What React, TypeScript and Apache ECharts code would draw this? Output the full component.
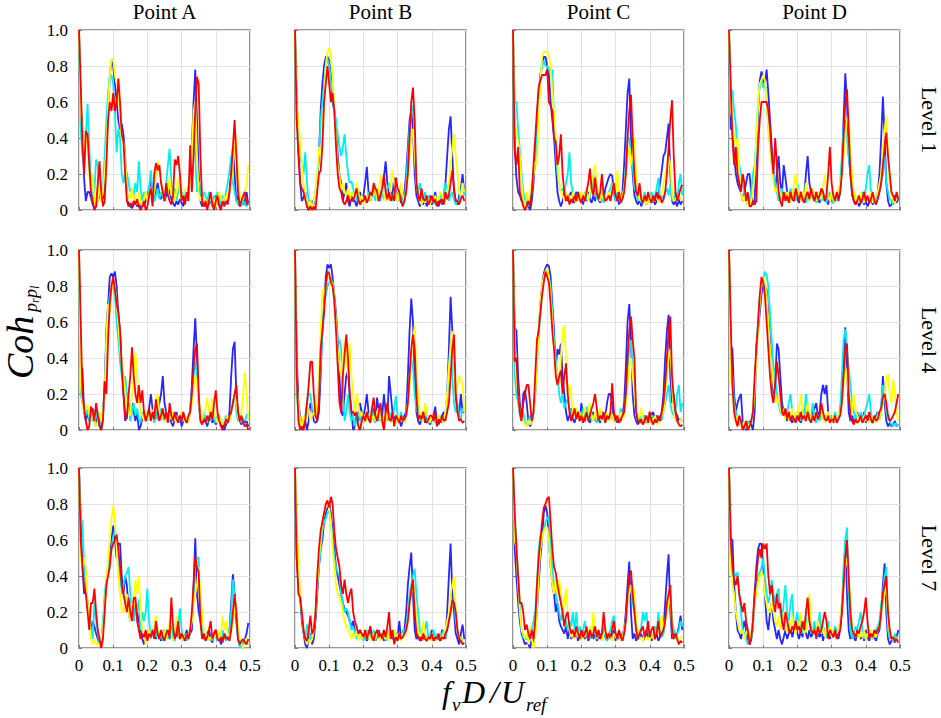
import React, { useEffect, useRef } from "react";
import * as echarts from "echarts";

const freq = [0,0.005,0.01,0.015,0.02,0.025,0.03,0.035,0.04,0.045,0.05,0.055,0.06,0.065,0.07,0.075,0.08,0.085,0.09,0.095,0.1,0.105,0.11,0.115,0.12,0.125,0.13,0.135,0.14,0.145,0.15,0.155,0.16,0.165,0.17,0.175,0.18,0.185,0.19,0.195,0.2,0.205,0.21,0.215,0.22,0.225,0.23,0.235,0.24,0.245,0.25,0.255,0.26,0.265,0.27,0.275,0.28,0.285,0.29,0.295,0.3,0.305,0.31,0.315,0.32,0.325,0.33,0.335,0.34,0.345,0.35,0.355,0.36,0.365,0.37,0.375,0.38,0.385,0.39,0.395,0.4,0.405,0.41,0.415,0.42,0.425,0.43,0.435,0.44,0.445,0.45,0.455,0.46,0.465,0.47,0.475,0.48,0.485,0.49,0.495];

const pointNames = ["Point A", "Point B", "Point C", "Point D"];
const levelNames = ["Level 1", "Level 4", "Level 7"];
const xTicks = [0, 0.1, 0.2, 0.3, 0.4, 0.5];
const yTicks = [0, 0.2, 0.4, 0.6, 0.8, 1.0];

// ---------- Level 1 ----------
const L1_A_blue = [1,.6,.44,.17,.05,.1,.1,.07,.03,.01,.02,.05,.08,.1,.06,.15,.35,.55,.75,.83,.8,.7,.6,.5,.45,.48,.42,.3,.1,.03,.02,.01,.03,.05,.02,.03,.01,.04,.02,.05,.08,.12,.17,.08,.05,.1,.15,.09,.06,.1,.05,.08,.13,.1,.06,.04,.02,.05,.03,.06,.04,.02,.1,.05,.12,.2,.35,.6,.78,.5,.2,.05,.02,.04,.02,.05,.03,.06,.02,.05,.08,.03,.06,.02,.05,.03,.05,.05,.1,.2,.35,.2,.05,.08,.02,.05,.03,.06,.1,.03];
const L1_A_cyan = [1,.45,.3,.25,.4,.59,.35,.15,.05,.1,.28,.25,.1,.05,.12,.3,.5,.65,.74,.75,.7,.55,.32,.45,.4,.2,.15,.2,.21,.15,.1,.12,.08,.15,.1,.27,.12,.05,.1,.08,.06,.12,.22,.1,.05,.08,.12,.06,.1,.08,.05,.15,.25,.34,.15,.08,.12,.05,.1,.15,.06,.1,.08,.05,.12,.2,.35,.45,.3,.1,.16,.12,.05,.1,.08,.04,.1,.06,.02,.08,.05,.1,.06,.03,.08,.05,.1,.15,.22,.3,.15,.1,.05,.03,.08,.02,.05,.03,.02,.04];
const L1_A_yellow = [1,.55,.45,.3,.43,.35,.2,.1,.2,.05,.02,.05,.15,.05,.1,.2,.35,.55,.75,.84,.84,.75,.7,.73,.5,.4,.38,.3,.1,.05,.08,.12,.05,.08,.03,.1,.05,.02,.06,.1,.05,.08,.12,.06,.1,.2,.27,.22,.15,.1,.06,.15,.1,.18,.08,.12,.05,.1,.18,.1,.05,.08,.12,.06,.1,.15,.3,.55,.6,.3,.1,.05,.08,.03,.06,.02,.05,.08,.03,.06,.02,.05,.1,.06,.04,.08,.05,.1,.1,.15,.25,.35,.4,.2,.08,.05,.06,.1,.15,.25];
const L1_A_red = [1,.7,.37,.2,.44,.42,.25,.1,.05,0,.02,.15,.27,.1,.02,.05,.25,.5,.6,.55,.65,.55,.6,.73,.6,.42,.38,.2,.05,.02,.04,.02,.05,.03,.06,.02,0,.02,.05,0,.02,.08,.12,.02,.2,.26,.22,.25,.15,.1,.05,.15,.08,.05,.03,.08,.28,.25,.3,.2,.05,.08,.03,.1,.05,.36,.1,.3,.55,.74,.7,.3,.05,.02,.05,0,.05,.1,.03,0,.05,.08,.02,0,.05,.02,.05,.03,.1,.2,.35,.5,.3,.1,.02,.05,.08,.1,.03,.05];

const L1_B_blue = [1,.62,.35,.15,.05,.07,.1,.02,0,.02,.05,.03,.1,.15,.3,.55,.7,.8,.85,.85,.83,.75,.6,.55,.45,.3,.2,.15,.05,.1,.15,.05,.02,.08,.05,.05,.02,.06,.1,.05,.08,.15,.24,.1,.05,.08,.12,.06,.1,.05,.08,.12,.18,.27,.15,.06,.1,.08,.18,.1,.05,.08,.04,.06,.1,.2,.35,.5,.55,.45,.2,.08,.05,.02,.05,.03,.06,.02,.05,.08,.03,.05,.1,.04,.02,.06,.03,.08,.15,.3,.45,.52,.3,.1,.05,.03,.08,.12,.2,.1];
const L1_B_cyan = [1,.5,.4,.3,.25,.2,.32,.15,.05,.05,.02,.05,.1,.2,.3,.5,.6,.7,.8,.84,.8,.72,.65,.55,.5,.42,.35,.3,.35,.42,.3,.2,.15,.16,.12,.08,.05,.1,.06,.08,.05,.08,.04,.1,.06,.08,.1,.05,.12,.08,.05,.1,.06,.08,.12,.15,.08,.05,.1,.06,.1,.05,.08,.04,.05,.15,.3,.45,.55,.58,.4,.15,.1,.15,.08,.05,.1,.06,.08,.04,.05,.08,.03,.06,.05,.1,.04,.08,.15,.12,.05,.08,.1,.06,.03,.05,.05,.1,.15,.08];
const L1_B_yellow = [1,.6,.48,.4,.25,.15,.08,.05,.02,.05,0,.05,.1,.2,.35,.3,.4,.6,.8,.88,.9,.85,.75,.55,.4,.25,.2,.1,.15,.1,.08,.12,.05,.1,.08,.06,.15,.1,.05,.08,.05,.03,.06,.08,.05,.1,.08,.12,.06,.1,.2,.12,.08,.05,.1,.06,.15,.22,.15,.08,.05,.1,.15,.08,.05,.1,.2,.3,.4,.45,.3,.15,.08,.05,.03,.06,.04,.08,.05,.03,.06,.04,.08,.05,.06,.1,.08,.04,.05,.1,.15,.25,.35,.42,.3,.2,.1,.08,.15,.1];
const L1_B_red = [1,.5,.3,.15,.12,.1,.06,.02,0,.02,0,.02,0,.1,.2,.22,.35,.6,.7,.8,.7,.6,.65,.55,.35,.2,.12,.1,.05,.03,.05,.08,.04,.06,.05,.08,.12,.06,.03,.05,.05,.08,.04,.06,.1,.08,.15,.12,.1,.05,.08,.12,.2,.1,.06,.1,.05,.08,.05,.18,.12,.1,.05,.02,.05,.1,.2,.4,.6,.68,.5,.15,.08,.05,.12,.06,.05,.08,.03,.05,.08,.04,.06,.02,.05,.04,.06,.03,.1,.06,.08,.15,.22,.12,.05,.05,.03,.06,.08,.05];

const L1_C_blue = [1,.35,.18,.1,.08,.05,.04,.02,.05,.02,0,.05,.15,.3,.5,.65,.75,.8,.85,.85,.8,.75,.6,.5,.4,.25,.1,.05,.02,.05,.1,.08,.05,.08,.1,.06,.04,.1,.08,.05,.06,.03,.08,.05,.1,.06,.04,.08,.05,.1,.06,.04,.08,.05,.12,.15,.18,.2,.19,.1,.05,.08,.03,.06,.1,.25,.45,.65,.73,.4,.2,.08,.05,.03,.06,.02,.05,.08,.03,.05,.08,.04,.06,.03,.05,.08,.15,.22,.3,.32,.4,.48,.2,.05,.03,.05,.02,.06,.03,.05];
const L1_C_cyan = [1,.6,.6,.45,.33,.2,.1,.05,.08,.02,.05,.1,.2,.25,.4,.6,.75,.8,.83,.8,.8,.78,.75,.78,.5,.35,.2,.15,.1,.12,.1,.15,.2,.32,.15,.1,.08,.05,.1,.06,.08,.05,.1,.06,.05,.08,.12,.2,.1,.06,.08,.05,.1,.04,.08,.06,.1,.12,.15,.08,.05,.1,.06,.04,.08,.12,.25,.4,.4,.3,.25,.12,.1,.05,.08,.04,.06,.1,.05,.08,.06,.1,.05,.08,.12,.18,.05,.08,.06,.1,.12,.08,.15,.05,.06,.1,.05,.15,.2,.08];
const L1_C_yellow = [1,.5,.42,.38,.3,.15,.05,.02,.1,.05,.1,.15,.2,.27,.25,.5,.7,.85,.88,.88,.88,.85,.8,.65,.55,.4,.25,.15,.1,.08,.05,.1,.06,.08,.05,.1,.06,.04,.08,.05,.1,.06,.08,.12,.05,.1,.15,.2,.25,.15,.08,.05,.1,.06,.08,.05,.1,.06,.12,.15,.1,.22,.1,.05,.08,.12,.2,.3,.35,.25,.3,.4,.2,.12,.05,.08,.04,.06,.03,.05,.08,.04,.06,.05,.08,.04,.06,.1,.15,.2,.25,.3,.25,.1,.05,.06,.05,.08,.06,.05];
const L1_C_red = [1,.33,.25,.35,.1,.06,.02,0,.02,.05,.02,.1,.25,.4,.55,.68,.72,.75,.75,.75,.78,.6,.58,.55,.4,.38,.25,.3,.42,.2,.1,.05,.08,.03,.06,.04,.08,.05,.1,.06,.04,.08,.05,.1,.15,.23,.12,.08,.18,.1,.06,.1,.2,.08,.05,.06,.08,.05,.1,.15,.08,.05,.1,.04,.06,.1,.2,.4,.55,.64,.4,.2,.1,.08,.15,.06,.04,.08,.05,.1,.06,.04,.08,.05,.1,.06,.08,.04,.06,.1,.2,.35,.5,.61,.3,.1,.05,.08,.12,.14];

const L1_D_blue = [1,.45,.45,.3,.2,.15,.12,.1,.05,.1,.15,.2,.2,.1,.03,.05,.3,.55,.72,.77,.72,.7,.78,.65,.5,.35,.2,.12,.2,.3,.15,.1,.25,.18,.1,.05,.1,.06,.05,.08,.06,.04,.1,.05,.08,.2,.3,.15,.1,.08,.05,.1,.06,.04,.08,.1,.05,.06,.03,.08,.05,.04,.06,.08,.05,.1,.25,.5,.76,.6,.3,.2,.08,.05,.03,.06,.02,.04,.06,.03,.05,.02,.04,.06,.03,.05,.08,.1,.2,.4,.63,.4,.15,.05,.02,.03,.05,.08,.04,.06];
const L1_D_cyan = [1,.67,.66,.55,.47,.3,.25,.2,.15,.08,.05,.08,.05,.1,.2,.25,.4,.6,.7,.72,.68,.7,.6,.45,.35,.25,.2,.15,.1,.05,.08,.12,.06,.1,.05,.08,.12,.06,.1,.05,.15,.08,.05,.1,.06,.04,.08,.05,.1,.06,.08,.04,.06,.1,.05,.08,.06,.04,.08,.1,.06,.04,.08,.05,.1,.15,.3,.45,.5,.4,.3,.2,.1,.06,.08,.04,.06,.05,.1,.08,.12,.2,.25,.1,.05,.06,.04,.08,.1,.15,.2,.3,.15,.1,.06,.05,.03,.05,.06,.08];
const L1_D_yellow = [1,.55,.5,.4,.35,.4,.2,.1,.05,.08,.03,.05,.02,.05,.1,.2,.4,.6,.7,.72,.75,.72,.6,.45,.35,.25,.15,.1,.12,.08,.1,.06,.08,.05,.1,.06,.04,.08,.15,.2,.12,.08,.05,.1,.06,.15,.1,.05,.08,.12,.06,.05,.1,.08,.06,.12,.2,.1,.08,.05,.1,.06,.04,.08,.1,.15,.2,.3,.4,.5,.53,.3,.2,.1,.05,.08,.04,.1,.06,.04,.08,.05,.06,.1,.04,.06,.08,.1,.15,.2,.35,.45,.52,.3,.15,.08,.05,.04,.06,.08];
const L1_D_red = [1,.7,.4,.25,.35,.2,.15,.1,.2,.15,.05,.1,.02,.02,.05,.03,.05,.35,.5,.6,.6,.6,.6,.55,.45,.3,.2,.4,.25,.1,.05,.02,.1,.05,.08,.04,.1,.06,.05,.12,.08,.05,.1,.06,.04,.08,.1,.06,.12,.08,.05,.1,.06,.08,.12,.1,.05,.08,.2,.35,.15,.08,.05,.1,.06,.1,.2,.4,.6,.67,.45,.2,.1,.05,.03,.05,.08,.04,.06,.1,.05,.08,.04,.06,.1,.05,.03,.06,.1,.15,.25,.35,.43,.3,.2,.1,.08,.05,.1,.06];

// ---------- Level 4 ----------
const L4_A_blue = [1,.35,.34,.1,.05,.1,.05,.08,.12,.05,.02,.1,.03,0,.08,.25,.55,.7,.85,.87,.85,.88,.8,.65,.55,.35,.2,.05,.08,.15,.08,.15,.1,.05,.1,0,.02,.06,.1,.05,.08,.12,.2,.12,.05,.1,.06,.15,.2,.3,.15,.1,.06,.08,.04,.02,.06,.1,.05,.08,.02,.05,.08,.04,.06,.1,.25,.45,.62,.4,.15,.06,.04,.08,.05,.02,.06,.1,.04,.06,.03,.05,.08,.04,.02,0,.03,.05,.1,.3,.45,.49,.2,.1,.05,.03,.06,.04,.05,.02];
const L4_A_cyan = [1,.2,.15,.1,.08,.12,.05,.1,.05,.1,.12,.05,.02,.05,.1,.2,.45,.68,.75,.78,.8,.75,.6,.5,.38,.3,.25,.3,.2,.15,.05,.1,.15,.08,.12,.06,.04,.1,.06,.08,.05,.1,.06,.08,.04,.1,.06,.08,.12,.06,.05,.1,.04,.08,.06,.1,.05,.08,.04,.06,.1,.05,.08,.04,.06,.12,.2,.3,.38,.3,.15,.08,.05,.1,.06,.04,.08,.05,.1,.06,.04,.08,.05,.06,.03,.05,.08,.04,.06,.1,.15,.2,.1,.05,.08,.04,.06,.05,.08,.1];
const L4_A_yellow = [1,.25,.15,.1,.12,.14,.08,.05,.1,.05,.02,.05,.1,.05,.1,.2,.5,.7,.65,.78,.82,.8,.7,.6,.45,.38,.3,.2,.15,.1,.08,.2,.3,.43,.3,.15,.1,.08,.05,.1,.06,.08,.05,.1,.12,.15,.2,.1,.06,.08,.05,.1,.04,.08,.06,.1,.05,.08,.04,.06,.1,.05,.08,.06,.04,.1,.15,.25,.3,.25,.15,.08,.05,.1,.12,.18,.1,.08,.18,.1,.06,.04,.08,.05,.03,.06,.04,.08,.05,.1,.15,.2,.15,.08,.05,.1,.2,.32,.2,.05];
const L4_A_red = [1,.6,.2,.12,.05,0,.02,.13,.1,.05,.15,.08,.02,0,.05,.27,.2,.5,.7,.8,.85,.78,.7,.65,.55,.35,.2,.08,.06,.2,.3,.46,.3,.2,.15,.25,.15,.22,.1,.05,.08,.12,.05,.1,.06,.17,.1,.05,.08,.12,.06,.1,.04,.15,.08,.05,.1,.06,.04,.08,.05,.1,.06,.04,.08,.1,.2,.35,.45,.48,.2,.05,.03,.06,.04,.08,.05,.1,.06,.15,.22,.1,.05,.02,0,.03,.06,.04,.08,.1,.15,.2,.25,.1,.05,.08,.04,.02,.03,0];

const L4_B_blue = [1,.42,.15,.08,0,.02,.05,0,.05,.15,.12,.05,.04,.05,.1,.3,.55,.7,.85,.92,.9,.92,.85,.75,.65,.5,.3,.1,.08,.2,.3,.33,.2,.1,0,.02,.08,.05,.15,.1,.08,.12,.2,.1,.05,.08,.12,.06,.18,.1,.05,.08,.2,.1,.06,.3,.2,.1,.05,.08,.04,.06,.02,.05,.08,.1,.3,.55,.73,.6,.3,.1,.05,.03,.06,.1,.04,.08,.05,.03,.06,.08,.13,.05,.03,.06,.08,.1,.05,.2,.45,.74,.55,.4,.2,.1,.08,.2,.1,.1];
const L4_B_cyan = [1,.2,.1,.05,.02,.05,.08,.15,.2,.2,.12,.1,.08,.12,.2,.35,.55,.7,.75,.8,.82,.85,.8,.7,.6,.5,.5,.45,.2,.05,.1,.2,.1,.05,.08,.02,.06,.1,.05,.08,.04,.06,.1,.08,.05,.12,.06,.04,.08,.05,.1,.06,.04,.08,.05,.1,.08,.05,.12,.19,.08,.05,.1,.06,.04,.08,.15,.3,.4,.35,.2,.1,.15,.08,.05,.06,.12,.08,.04,.06,.05,.08,.04,.06,.05,.08,.04,.06,.1,.2,.35,.5,.3,.15,.1,.15,.08,.06,.12,.1];
const L4_B_yellow = [1,.25,.15,.05,.02,.08,.05,.1,.12,.05,.08,.1,.08,.15,.3,.55,.78,.75,.8,.85,.85,.8,.82,.75,.6,.45,.35,.3,.4,.5,.45,.3,.48,.3,.2,.1,.2,.15,.08,.1,.06,.04,.08,.05,.1,.06,.08,.05,.1,.12,.06,.04,.08,.05,.1,.06,.04,.08,.05,.06,.04,.08,.05,.06,.04,.08,.15,.25,.4,.5,.58,.3,.2,.1,.08,.05,.15,.1,.06,.04,.08,.05,.06,.04,.08,.05,.06,.04,.1,.2,.35,.45,.55,.4,.2,.25,.3,.28,.25,.1];
const L4_B_red = [1,.3,.05,0,.02,0,.05,.15,.25,.38,.38,.2,.08,.05,.15,.45,.55,.65,.8,.88,.87,.82,.8,.72,.55,.35,.15,.1,.3,.42,.53,.4,.2,.1,.1,.08,.1,.02,0,.05,.08,.05,.1,.06,.04,.12,.18,.08,.05,.1,.15,.05,0,.1,.15,.06,.05,.1,.02,.08,.06,.04,.08,.05,.06,.08,.15,.3,.45,.53,.45,.2,.05,.08,.06,.1,.05,.04,.06,.08,.08,.05,.1,.02,.06,.04,.08,.05,.06,.1,.15,.3,.45,.53,.2,.1,.05,.06,.04,.05];

const L4_C_blue = [1,.57,.55,.3,.15,.05,.2,.22,.15,.05,.02,.05,.1,.2,.4,.55,.7,.8,.87,.9,.92,.91,.85,.7,.55,.35,.45,.42,.48,.3,.2,.1,.05,.08,.12,.06,.04,.08,.1,.05,.15,.08,.05,.1,.06,.04,.08,.1,.05,.08,.06,.04,.1,.06,.08,.15,.2,.2,.15,.05,.08,.04,.06,.05,.08,.15,.35,.6,.7,.5,.2,.08,.05,.03,.06,.04,.05,.08,.04,.06,.1,.08,.1,.06,.08,.05,.06,.1,.2,.4,.55,.64,.3,.15,.2,.1,.08,.05,.06,.05];
const L4_C_cyan = [1,.3,.2,.15,.08,.05,.1,.05,.02,.05,.08,.05,.1,.2,.35,.5,.65,.75,.85,.88,.89,.85,.8,.65,.5,.4,.3,.2,.15,.2,.12,.15,.17,.12,.1,.08,.12,.06,.1,.05,.08,.12,.06,.13,.08,.1,.05,.08,.06,.04,.08,.05,.1,.06,.04,.08,.05,.1,.06,.08,.05,.08,.06,.12,.08,.1,.2,.35,.45,.5,.35,.25,.1,.05,.08,.04,.06,.08,.05,.04,.06,.08,.05,.06,.04,.08,.05,.06,.1,.15,.2,.25,.15,.1,.08,.1,.2,.25,.1,.15];
const L4_C_yellow = [1,.5,.3,.2,.1,.08,.05,.03,.02,.05,.03,.05,.1,.2,.35,.55,.7,.8,.85,.88,.9,.85,.75,.6,.45,.35,.3,.25,.4,.55,.58,.4,.2,.25,.2,.1,.08,.12,.06,.1,.05,.08,.12,.06,.1,.15,.08,.05,.1,.06,.08,.12,.05,.08,.06,.1,.05,.1,.08,.04,.06,.08,.05,.1,.06,.08,.15,.25,.35,.4,.3,.2,.1,.06,.08,.12,.05,.04,.06,.03,.1,.06,.04,.08,.05,.03,.06,.08,.1,.2,.3,.4,.45,.25,.1,.06,.05,.04,.06,.05];
const L4_C_red = [1,.38,.4,.2,.1,.05,.15,.2,.25,.25,.15,.05,.1,.3,.5,.55,.65,.75,.82,.88,.85,.82,.7,.55,.45,.3,.25,.3,.33,.2,.3,.37,.2,.1,.05,.08,.12,.06,.1,.05,.08,.04,.06,.1,.05,.08,.12,.15,.2,.12,.05,.08,.06,.1,.04,.08,.06,.1,.26,.1,.05,.08,.04,.06,.08,.1,.2,.4,.55,.63,.5,.4,.1,.05,.04,.06,.03,.05,.08,.04,.1,.05,.03,.06,.04,.08,.05,.1,.15,.25,.4,.55,.63,.3,.18,.1,.05,.03,.02,.03];

const L4_D_blue = [1,.47,.45,.2,.1,.15,.18,.2,.05,.02,0,.02,.05,.03,0,.1,.47,.55,.65,.75,.82,.8,.78,.65,.5,.35,.2,.25,.48,.45,.3,.15,.1,.08,.05,.1,.06,.04,.08,.05,.1,.06,.04,.08,.05,.1,.12,.08,.05,.1,.12,.15,.08,.1,.2,.25,.2,.25,.1,.05,.08,.04,.06,.05,.08,.1,.2,.4,.57,.35,.1,.05,.08,.04,.06,.1,.05,.08,.06,.1,.04,.08,.05,.06,.04,.06,.08,.1,.06,.1,.3,.15,.05,.02,.04,.02,.03,.05,.02,.03];
const L4_D_cyan = [1,.4,.3,.15,.1,.05,.03,.05,.02,.01,.02,.05,.03,.05,.1,.25,.45,.6,.75,.8,.84,.88,.86,.8,.65,.5,.35,.3,.2,.15,.1,.08,.12,.06,.1,.15,.2,.1,.05,.08,.06,.1,.05,.12,.08,.2,.1,.05,.08,.15,.06,.04,.08,.05,.1,.06,.08,.05,.1,.06,.08,.05,.1,.06,.08,.12,.3,.5,.56,.45,.35,.25,.15,.1,.06,.08,.05,.1,.06,.08,.12,.15,.2,.1,.05,.06,.04,.1,.06,.15,.25,.2,.1,.06,.05,.03,.02,.04,.02,.03];
const L4_D_yellow = [1,.3,.2,.1,.05,.08,.05,.03,.02,.05,.01,.03,.02,.05,.1,.2,.4,.55,.7,.8,.85,.82,.75,.6,.45,.35,.25,.2,.15,.18,.12,.08,.1,.06,.1,.05,.08,.12,.06,.1,.08,.12,.2,.1,.05,.08,.15,.1,.06,.08,.05,.1,.06,.08,.12,.06,.04,.08,.1,.06,.04,.08,.05,.06,.1,.08,.15,.25,.35,.3,.2,.15,.1,.2,.12,.08,.05,.06,.04,.08,.05,.06,.04,.08,.05,.06,.04,.08,.06,.1,.15,.2,.28,.31,.2,.15,.28,.2,.1,.05];
const L4_D_red = [1,.6,.25,.1,.05,.02,.08,.05,0,.02,.05,0,.02,.05,.1,.3,.45,.6,.75,.85,.82,.75,.6,.45,.3,.2,.15,.25,.38,.3,.2,.1,.08,.12,.06,.1,.05,.08,.06,.04,.08,.05,.1,.06,.08,.05,.1,.06,.04,.08,.05,.1,.06,.08,.15,.1,.06,.05,.08,.04,.06,.05,.08,.04,.06,.08,.15,.3,.45,.48,.2,.08,.05,.03,.06,.04,.05,.08,.04,.06,.08,.05,.1,.06,.04,.08,.05,.06,.1,.12,.18,.2,.15,.08,.05,.06,.08,.1,.15,.2];

// ---------- Level 7 ----------
const L7_A_blue = [1,.7,.45,.3,.33,.25,.15,.1,.15,.12,.08,.05,.02,.01,.1,.25,.35,.45,.5,.6,.68,.6,.5,.58,.58,.4,.3,.4,.35,.2,.15,.2,.15,.25,.2,.15,.1,.05,.02,.08,.05,.1,.06,.08,.12,.05,.1,.06,.04,.08,.1,.06,.08,.05,.1,.04,.08,.06,.1,.05,.08,.04,.06,.1,.05,.08,.1,.35,.61,.3,.2,.15,.08,.05,.06,.08,.1,.05,.03,.08,.1,.04,.06,.02,.05,.08,.04,.06,.1,.25,.41,.3,.15,.05,.02,.04,.02,.05,.08,.14];
const L7_A_cyan = [1,.72,.7,.45,.35,.25,.2,.1,.05,.25,.15,.08,.02,.05,.15,.3,.38,.45,.5,.55,.62,.65,.6,.45,.4,.3,.35,.4,.42,.45,.3,.2,.15,.22,.2,.27,.1,.2,.15,.2,.33,.15,.05,.08,.12,.06,.1,.05,.08,.04,.06,.1,.05,.08,.12,.06,.04,.08,.12,.22,.1,.05,.08,.04,.06,.1,.15,.3,.45,.5,.5,.2,.1,.06,.04,.08,.05,.06,.04,.08,.06,.04,.08,.05,.1,.06,.04,.08,.1,.2,.38,.3,.2,.05,0,.02,.04,.05,.03,.05];
const L7_A_yellow = [1,.5,.45,.5,.45,.25,.15,.05,.02,.05,.02,.03,.01,.05,.1,.25,.35,.5,.6,.72,.79,.72,.55,.4,.3,.22,.2,.25,.3,.2,.15,.25,.22,.38,.3,.4,.2,.1,.08,.02,.05,.1,.06,.08,.12,.18,.1,.05,.08,.06,.1,.05,.08,.15,.06,.04,.08,.18,.1,.05,.08,.04,.06,.08,.05,.1,.15,.25,.3,.35,.45,.3,.2,.1,.06,.08,.04,.06,.05,.08,.06,.1,.04,.08,.18,.1,.15,.08,.05,.1,.15,.2,.25,.1,.05,.02,0,.04,.05,.03];
const L7_A_red = [1,.6,.45,.35,.3,.2,.1,.25,.25,.33,.2,.1,.05,0,.05,.2,.35,.4,.45,.55,.58,.6,.63,.55,.45,.35,.3,.25,.2,.28,.2,.15,.28,.28,.15,.1,.05,.08,.06,.1,.04,.08,.06,.1,.05,.15,.08,.05,.1,.06,.04,.08,.1,.06,.28,.12,.05,.08,.15,.05,.08,.06,.04,.08,.05,.1,.2,.35,.51,.45,.42,.15,.05,.08,.04,.06,.1,.15,.05,.08,.1,.05,.04,.06,.03,.08,.05,.06,.04,.1,.2,.3,.2,.05,.02,.04,.05,.03,.02,.05];

const L7_B_blue = [1,.5,.35,.28,.15,.08,.02,0,.05,.08,.02,.05,.15,.3,.45,.55,.6,.7,.75,.78,.8,.75,.65,.55,.45,.4,.35,.3,.25,.22,.2,.18,.15,.12,.15,.1,.08,.05,.08,.05,.06,.08,.04,.06,.12,.05,.08,.04,.06,.1,.05,.08,.04,.06,.1,.05,.08,.06,.04,.08,.06,.15,.05,.08,.1,.2,.35,.45,.53,.3,.1,.05,.08,.04,.06,.05,.08,.04,.06,.05,.1,.08,.04,.06,.05,.04,.1,.08,.05,.2,.4,.58,.3,.2,.08,.05,.02,.08,.13,.05];
const L7_B_cyan = [1,.6,.45,.3,.2,.1,.05,.13,.1,.05,.08,.1,.2,.35,.45,.55,.65,.7,.72,.75,.76,.7,.6,.5,.45,.42,.4,.3,.25,.2,.22,.2,.15,.1,.12,.08,.05,.1,.06,.08,.04,.06,.1,.05,.08,.06,.1,.04,.08,.06,.05,.08,.1,.04,.06,.08,.05,.1,.06,.04,.08,.05,.06,.1,.08,.12,.2,.3,.35,.4,.44,.3,.2,.1,.08,.06,.1,.15,.05,.08,.06,.1,.04,.08,.06,.05,.08,.1,.06,.1,.15,.2,.25,.28,.15,.1,.05,.06,.04,.05];
const L7_B_yellow = [1,.7,.5,.3,.2,.1,.05,.02,.05,.03,.05,.1,.2,.35,.5,.6,.7,.75,.78,.8,.78,.7,.55,.45,.35,.3,.28,.25,.2,.15,.12,.1,.08,.05,.08,.06,.1,.04,.08,.05,.06,.1,.05,.08,.04,.06,.08,.05,.1,.06,.04,.08,.06,.05,.1,.04,.08,.06,.1,.05,.08,.06,.04,.08,.06,.1,.15,.25,.3,.35,.3,.15,.1,.06,.08,.15,.08,.05,.06,.04,.08,.05,.06,.04,.08,.06,.05,.08,.1,.15,.2,.3,.35,.4,.2,.1,.06,.05,.04,.05];
const L7_B_red = [1,.5,.3,.28,.2,.1,.05,.04,.1,.18,.08,.1,.2,.4,.55,.65,.7,.75,.8,.82,.78,.84,.8,.65,.55,.5,.45,.35,.3,.38,.3,.25,.3,.33,.2,.15,.12,.08,.1,.08,.06,.1,.05,.08,.12,.06,.04,.08,.1,.06,.08,.05,.1,.06,.12,.2,.05,.1,.02,.06,.04,.08,.05,.06,.08,.1,.15,.25,.32,.38,.2,.08,.05,.06,.04,.08,.05,.04,.06,.05,.08,.04,.06,.05,.08,.04,.06,.05,.08,.1,.15,.2,.27,.25,.2,.1,.05,.04,.02,.03];

const L7_C_blue = [1,.55,.4,.25,.15,.08,.05,.02,.03,.02,0,.05,.03,.1,.2,.35,.5,.6,.75,.79,.75,.6,.45,.35,.3,.2,.25,.15,.12,.1,.08,.12,.05,.1,.05,.08,.06,.1,.04,.08,.06,.1,.05,.08,.04,.06,.1,.05,.08,.04,.06,.08,.05,.1,.06,.04,.08,.05,.06,.1,.04,.08,.05,.06,.08,.1,.2,.35,.48,.2,.05,.08,.04,.06,.05,.08,.04,.06,.1,.05,.08,.04,.06,.05,.08,.04,.06,.08,.1,.25,.4,.52,.2,.05,.1,.06,.08,.12,.18,.1];
const L7_C_cyan = [1,.72,.6,.4,.25,.1,.06,.05,.05,.08,.05,.1,.15,.2,.35,.55,.62,.63,.65,.7,.72,.73,.55,.45,.35,.3,.25,.2,.15,.2,.12,.15,.1,.15,.12,.2,.1,.2,.08,.12,.06,.1,.15,.08,.06,.1,.05,.12,.08,.06,.1,.05,.08,.12,.06,.04,.08,.1,.15,.18,.08,.05,.1,.06,.04,.08,.15,.25,.3,.35,.25,.2,.1,.06,.08,.12,.2,.15,.2,.1,.05,.08,.06,.12,.08,.2,.1,.06,.08,.15,.2,.25,.3,.15,.1,.06,.08,.1,.15,.12];
const L7_C_yellow = [1,.6,.55,.35,.2,.1,.08,.05,.08,.02,.12,.05,0,.05,.2,.4,.55,.6,.65,.67,.67,.6,.45,.35,.3,.38,.3,.38,.3,.2,.25,.33,.2,.1,.06,.08,.05,.1,.06,.08,.04,.08,.06,.1,.05,.12,.08,.2,.1,.05,.08,.06,.04,.08,.1,.05,.08,.06,.04,.08,.06,.05,.08,.04,.06,.1,.15,.25,.3,.35,.32,.32,.15,.1,.05,.06,.04,.08,.05,.06,.04,.08,.05,.06,.1,.08,.12,.18,.1,.15,.2,.25,.3,.1,.05,.06,.04,.05,.06,.05];
const L7_C_red = [1,.75,.55,.4,.25,.25,.2,.1,.13,.08,.05,.1,.05,.15,.35,.5,.6,.7,.78,.8,.83,.84,.7,.55,.45,.42,.35,.3,.25,.2,.12,.18,.2,.12,.08,.1,.06,.12,.08,.05,.1,.06,.08,.12,.05,.1,.06,.08,.12,.06,.1,.05,.08,.2,.1,.05,.08,.06,.1,.15,.08,.05,.1,.06,.04,.08,.15,.3,.4,.43,.3,.2,.1,.05,.08,.1,.12,.06,.08,.15,.06,.1,.12,.05,.08,.15,.06,.08,.1,.15,.25,.3,.35,.1,.05,.08,.05,.02,.04,.03];

const L7_D_blue = [1,.61,.6,.35,.2,.1,.08,.05,.1,.15,.1,.05,.02,.05,.15,.3,.45,.55,.58,.58,.45,.3,.15,.1,.2,.25,.15,.1,.05,.1,.05,.02,.06,.1,.05,.08,.12,.06,.1,.15,.08,.05,.1,.06,.12,.08,.05,.1,.06,.08,.12,.05,.08,.06,.1,.04,.08,.06,.1,.05,.08,.06,.12,.08,.05,.1,.2,.35,.6,.3,.1,.05,.08,.06,.04,.08,.06,.05,.08,.04,.1,.06,.04,.08,.05,.06,.04,.08,.1,.2,.35,.47,.2,.05,.02,.04,.05,.03,.06,.1];
const L7_D_cyan = [1,.5,.4,.42,.4,.42,.3,.2,.1,.08,.05,.02,.08,.05,.1,.25,.35,.4,.42,.45,.5,.4,.3,.25,.3,.38,.3,.25,.3,.33,.2,.15,.25,.35,.2,.15,.25,.3,.1,.15,.2,.1,.15,.08,.12,.1,.2,.15,.08,.1,.15,.06,.1,.2,.08,.12,.1,.06,.15,.08,.1,.06,.12,.08,.1,.15,.25,.45,.6,.67,.3,.1,.05,.08,.12,.1,.15,.2,.1,.05,.08,.06,.1,.05,.08,.06,.1,.12,.15,.25,.3,.4,.45,.1,.05,.06,.04,.08,.05,.06];
const L7_D_yellow = [1,.45,.35,.3,.2,.15,.1,.08,.1,.05,.08,.1,.05,.08,.15,.25,.3,.35,.4,.42,.4,.3,.25,.2,.2,.25,.2,.15,.12,.18,.1,.15,.2,.12,.08,.15,.1,.18,.12,.08,.15,.1,.2,.12,.08,.1,.15,.3,.12,.08,.1,.06,.15,.1,.08,.12,.06,.1,.08,.12,.06,.1,.08,.05,.1,.15,.25,.35,.45,.5,.4,.25,.1,.08,.06,.1,.05,.08,.06,.1,.05,.08,.06,.1,.05,.08,.06,.1,.12,.2,.25,.3,.35,.15,.08,.05,.06,.04,.05,.06];
const L7_D_red = [1,.6,.45,.38,.35,.4,.3,.25,.2,.25,.15,.1,.02,.05,.15,.3,.4,.5,.55,.5,.58,.55,.58,.4,.3,.35,.25,.2,.3,.22,.25,.15,.1,.2,.15,.1,.08,.12,.1,.15,.1,.12,.08,.15,.1,.2,.28,.15,.1,.08,.1,.06,.12,.08,.1,.15,.2,.15,.05,.1,.08,.06,.1,.05,.08,.1,.2,.35,.5,.6,.4,.2,.1,.08,.06,.1,.08,.12,.15,.2,.28,.15,.05,.08,.06,.1,.08,.1,.12,.2,.3,.35,.4,.2,.1,.05,.06,.04,.05,.03];

const panels = [
  { row: 0, col: 0, lines: [L1_A_blue, L1_A_cyan, L1_A_yellow, L1_A_red] },
  { row: 0, col: 1, lines: [L1_B_blue, L1_B_cyan, L1_B_yellow, L1_B_red] },
  { row: 0, col: 2, lines: [L1_C_blue, L1_C_cyan, L1_C_yellow, L1_C_red] },
  { row: 0, col: 3, lines: [L1_D_blue, L1_D_cyan, L1_D_yellow, L1_D_red] },
  { row: 1, col: 0, lines: [L4_A_blue, L4_A_cyan, L4_A_yellow, L4_A_red] },
  { row: 1, col: 1, lines: [L4_B_blue, L4_B_cyan, L4_B_yellow, L4_B_red] },
  { row: 1, col: 2, lines: [L4_C_blue, L4_C_cyan, L4_C_yellow, L4_C_red] },
  { row: 1, col: 3, lines: [L4_D_blue, L4_D_cyan, L4_D_yellow, L4_D_red] },
  { row: 2, col: 0, lines: [L7_A_blue, L7_A_cyan, L7_A_yellow, L7_A_red] },
  { row: 2, col: 1, lines: [L7_B_blue, L7_B_cyan, L7_B_yellow, L7_B_red] },
  { row: 2, col: 2, lines: [L7_C_blue, L7_C_cyan, L7_C_yellow, L7_C_red] },
  { row: 2, col: 3, lines: [L7_D_blue, L7_D_cyan, L7_D_yellow, L7_D_red] },
];

const LINE_COLORS = ["#2626ff", "#00eeee", "#ffff00", "#ff0000"];
const FONT = "Liberation Serif";
const COL_LEFT = [79, 295, 513, 729];
const ROW_TOP = [30, 250, 468];
const PW = 171;
const PH = 180;

const fmt = (v: number) => (v === 0 ? "0" : v.toFixed(1));

function txt(text: string, x: number, y: number, size: number, opts: any = {}) {
  return {
    type: "text",
    x,
    y,
    rotation: opts.rotation || 0,
    silent: true,
    style: {
      text,
      fontFamily: FONT,
      fontSize: size,
      fontStyle: opts.italic ? "italic" : "normal",
      fill: "#000",
      align: opts.align || "left",
      verticalAlign: "middle",
      textAlign: opts.align || "left",
      textVerticalAlign: "middle",
    },
  };
}

export default function App() {
  const ref = useRef<HTMLDivElement>(null);
  useEffect(() => {
    if (!ref.current) return;
    const chart = echarts.init(ref.current, null, { renderer: "svg" });
    const grid: any[] = [];
    const xAxis: any[] = [];
    const yAxis: any[] = [];
    const series: any[] = [];
    panels.forEach((p, k) => {
      grid.push({
        left: COL_LEFT[p.col],
        top: ROW_TOP[p.row],
        width: PW,
        height: PH,
        show: true,
        borderColor: "#7a7a7a",
        borderWidth: 1.6,
        backgroundColor: "transparent",
      });
      xAxis.push({
        type: "value",
        gridIndex: k,
        min: xTicks[0],
        max: xTicks[xTicks.length - 1],
        interval: 0.1,
        axisLine: { show: false },
        axisTick: { show: true, inside: true, length: 3, lineStyle: { color: "#7a7a7a" } },
        splitLine: { show: true, lineStyle: { color: "#e2e2e2", width: 1 } },
        axisLabel: {
          show: p.row === 2,
          formatter: fmt,
          fontFamily: FONT,
          fontSize: 17,
          color: "#000",
          margin: 9,
        },
      });
      yAxis.push({
        type: "value",
        gridIndex: k,
        min: yTicks[0],
        max: yTicks[yTicks.length - 1],
        interval: 0.2,
        axisLine: { show: false },
        axisTick: { show: true, inside: true, length: 3, lineStyle: { color: "#7a7a7a" } },
        splitLine: { show: true, lineStyle: { color: "#e2e2e2", width: 1 } },
        axisLabel: {
          show: p.col === 0,
          formatter: fmt,
          fontFamily: FONT,
          fontSize: 17,
          color: "#000",
          margin: 11,
        },
      });
      p.lines.forEach((arr, j) => {
        series.push({
          type: "line",
          xAxisIndex: k,
          yAxisIndex: k,
          data: freq.map((x, i) => [x, arr[i]]),
          symbol: "none",
          showSymbol: false,
          lineStyle: { color: LINE_COLORS[j], width: 1.8 },
          itemStyle: { color: LINE_COLORS[j] },
          z: 2 + j,
          silent: true,
        });
      });
    });

    const graphic: any[] = [];
    pointNames.forEach((n, c) => graphic.push(txt(n, COL_LEFT[c] + PW / 2, 11.5, 21, { align: "center" })));
    levelNames.forEach((n, r) =>
      graphic.push(txt(n, 929, ROW_TOP[r] + PH / 2, 22, { align: "center", rotation: -Math.PI / 2 }))
    );
    // y-axis title: Coh_{p_r p_l}
    graphic.push(txt("Coh", 19.5, 379, 38, { italic: true, rotation: Math.PI / 2 }));
    graphic.push(txt("p", 30.5, 312, 18, { italic: true, rotation: Math.PI / 2 }));
    graphic.push(txt("r", 35, 303, 12, { italic: true, rotation: Math.PI / 2 }));
    graphic.push(txt("p", 30.5, 298, 18, { italic: true, rotation: Math.PI / 2 }));
    graphic.push(txt("l", 35, 289, 12, { italic: true, rotation: Math.PI / 2 }));
    // x-axis title: f_v D / U_ref
    graphic.push(txt("f", 442, 692, 32, { italic: true }));
    graphic.push(txt("v", 452, 704, 19, { italic: true }));
    graphic.push(txt("D", 462, 692, 32, { italic: true }));
    graphic.push(txt("/", 490, 692, 32, { italic: true }));
    graphic.push(txt("U", 501, 692, 32, { italic: true }));
    graphic.push(txt("ref", 526, 704, 19, { italic: true }));

    chart.setOption({
      animation: false,
      backgroundColor: "#ffffff",
      textStyle: { fontFamily: FONT },
      grid,
      xAxis,
      yAxis,
      series,
      graphic,
    });
    return () => chart.dispose();
  }, []);

  return (
    <div
      ref={ref}
      style={{ position: "fixed", left: 0, top: 0, width: 941, height: 718, background: "#fff" }}
    />
  );
}
